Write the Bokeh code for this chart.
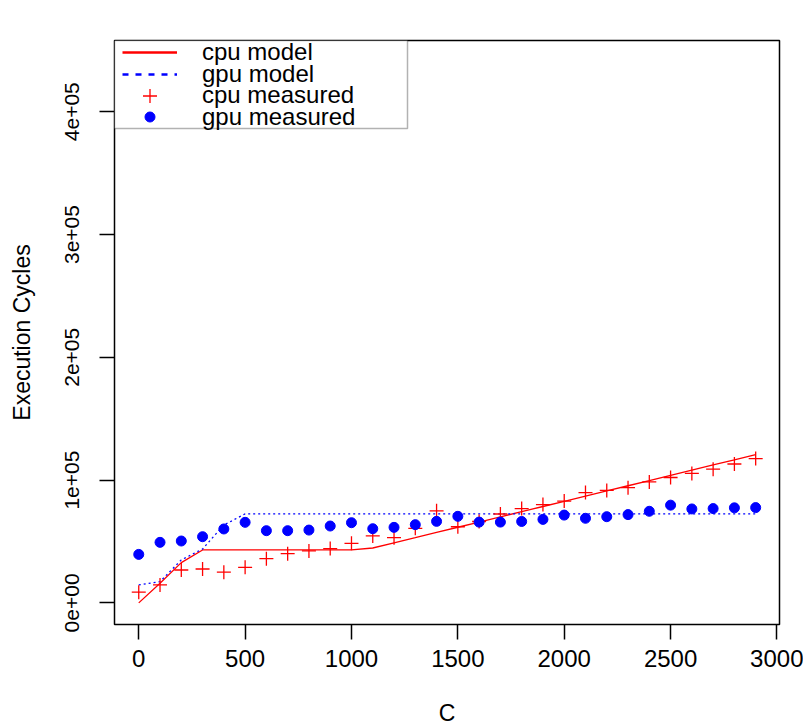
import numpy as np
from bokeh.plotting import figure
from bokeh.models import (Range1d, FixedTicker, Legend, LegendItem, ColumnDataSource,
                          BoxAnnotation, Node)
from bokeh.embed import file_html
from bokeh.resources import INLINE

# ---- data ----
C = [0, 100, 200, 300, 400, 500, 600, 700, 800, 900, 1000, 1100, 1200, 1300, 1400,
     1500, 1600, 1700, 1800, 1900, 2000, 2100, 2200, 2300, 2400, 2500, 2600, 2700, 2800, 2900]
cpu_model = [0, 16000, 32800, 43100, 43100, 43100, 43100, 43100, 43100, 43100, 43100,
             44700, 48900, 53100, 57400, 61600, 65800, 70100, 74300, 78500, 82700,
             87000, 91200, 95400, 99600, 103900, 108100, 112300, 116500, 120800]
gpu_model = [14600, 17300, 35000, 43900, 63400, 72500, 72500, 72500, 72500, 72500,
             72500, 72500, 72500, 72500, 72500, 72500, 72500, 72500, 72500, 72500,
             72500, 72500, 72500, 72500, 72500, 72500, 72500, 72500, 72500, 72500]
cpu_measured = [8700, 14600, 26800, 27600, 25000, 29000, 36000, 40100, 42300, 44200,
                48500, 54500, 53100, 60700, 75000, 62000, 66300, 72400, 76800, 80100,
                82900, 89800, 91600, 93800, 98500, 102100, 105400, 108900, 113100, 117500]
gpu_measured = [39500, 49300, 50400, 53900, 60200, 65600, 58800, 58800, 59300, 62600,
                65300, 60400, 61500, 63700, 66400, 70500, 65800, 65800, 66300, 68000,
                71500, 68900, 70200, 71900, 74600, 79600, 76500, 76800, 77400, 77600]

x_ticks = [0, 500, 1000, 1500, 2000, 2500, 3000]
y_ticks = [0, 100000, 200000, 300000, 400000]
y_tick_labels = ["0e+00", "1e+05", "2e+05", "3e+05", "4e+05"]
series_names = ["cpu model", "gpu model", "cpu measured", "gpu measured"]

RED = "#FF0000"
BLUE = "#0000FF"
FONT = "Liberation Sans"

p = figure(width=803, height=728, output_backend="svg", toolbar_location=None,
           x_range=Range1d(-114, 3012), y_range=Range1d(-17600, 458000),
           min_border_left=114, min_border_right=24, min_border_top=40, min_border_bottom=103)
p.xgrid.visible = False
p.ygrid.visible = False
p.background_fill_color = "white"
p.border_fill_color = "white"
p.outline_line_color = "black"
p.outline_line_width = 1.5

src = ColumnDataSource(dict(x=C, cm=cpu_model, gm=gpu_model, cme=cpu_measured, gme=gpu_measured))

p.line("x", "cm", source=src, line_color=RED, line_width=1.3)
p.line("x", "gm", source=src, line_color=BLUE, line_width=1.3, line_dash="2 3")
p.scatter("x", "cme", source=src, marker="cross", size=14, line_color=RED, line_width=1.3)
p.scatter("x", "gme", source=src, marker="circle", size=10, fill_color=BLUE, line_color=BLUE)

# legend key renderers (single NaN point, never visible in the plot)
key = ColumnDataSource(dict(x=np.array([np.nan]), y=np.array([np.nan])))
k1 = p.line("x", "y", source=key, line_color=RED, line_width=2.5)
k2 = p.line("x", "y", source=key, line_color=BLUE, line_width=2.5, line_dash="6 7")
k3 = p.scatter("x", "y", source=key, marker="cross", size=14, line_color=RED, line_width=1.3)
k4 = p.scatter("x", "y", source=key, marker="circle", size=10, fill_color=BLUE, line_color=BLUE)

# legend frame box (R style), anchored to the plot frame's top-left corner
box = BoxAnnotation(left=Node(target="frame", symbol="left", offset=0),
                    right=Node(target="frame", symbol="left", offset=293),
                    top=Node(target="frame", symbol="top", offset=0),
                    bottom=Node(target="frame", symbol="top", offset=88),
                    fill_color="white", fill_alpha=1.0,
                    line_color="black", line_width=1.5)
p.add_layout(box)

# one single-row legend per entry so that rows can be packed tightly like R
row_bottoms = [558, 536.5, 511.5, 493.5]
key_heights = [16, 16, 35, 25]
for name, r, yb, gh in zip(series_names, [k1, k2, k3, k4], row_bottoms, key_heights):
    lg = Legend(items=[LegendItem(label=name, renderers=[r])],
                location=(8, yb), margin=0, padding=0, spacing=0,
                glyph_width=55, glyph_height=gh, label_height=16,
                label_standoff=25, border_line_color=None,
                background_fill_alpha=0.0,
                label_text_font=FONT, label_text_font_size="24px",
                label_text_color="black")
    p.add_layout(lg)

# axes
p.xaxis.ticker = FixedTicker(ticks=x_ticks)
p.yaxis.ticker = FixedTicker(ticks=y_ticks)
p.yaxis.major_label_overrides = {t: lab for t, lab in zip(y_ticks, y_tick_labels)}
for ax in (p.xaxis, p.yaxis):
    ax.axis_line_color = None
    ax.major_tick_out = 15
    ax.major_tick_in = 0
    ax.major_tick_line_color = "black"
    ax.major_tick_line_width = 1.5
    ax.minor_tick_line_color = None
    ax.major_label_text_font = FONT
    ax.major_label_text_color = "black"
    ax.axis_label_text_font = FONT
    ax.axis_label_text_font_style = "normal"
    ax.axis_label_text_font_size = "23px"
    ax.axis_label_text_color = "black"

p.xaxis.major_label_text_font_size = "24px"
p.yaxis.major_label_text_font_size = "21px"
p.xaxis.major_label_standoff = 10
p.yaxis.major_label_standoff = 20
p.yaxis.major_label_orientation = "vertical"
p.xaxis.axis_label = "C"
p.yaxis.axis_label = "Execution Cycles"
p.xaxis.axis_label_standoff = 30
p.yaxis.axis_label_standoff = 28

open("out.html", "w").write(file_html(p, INLINE))
